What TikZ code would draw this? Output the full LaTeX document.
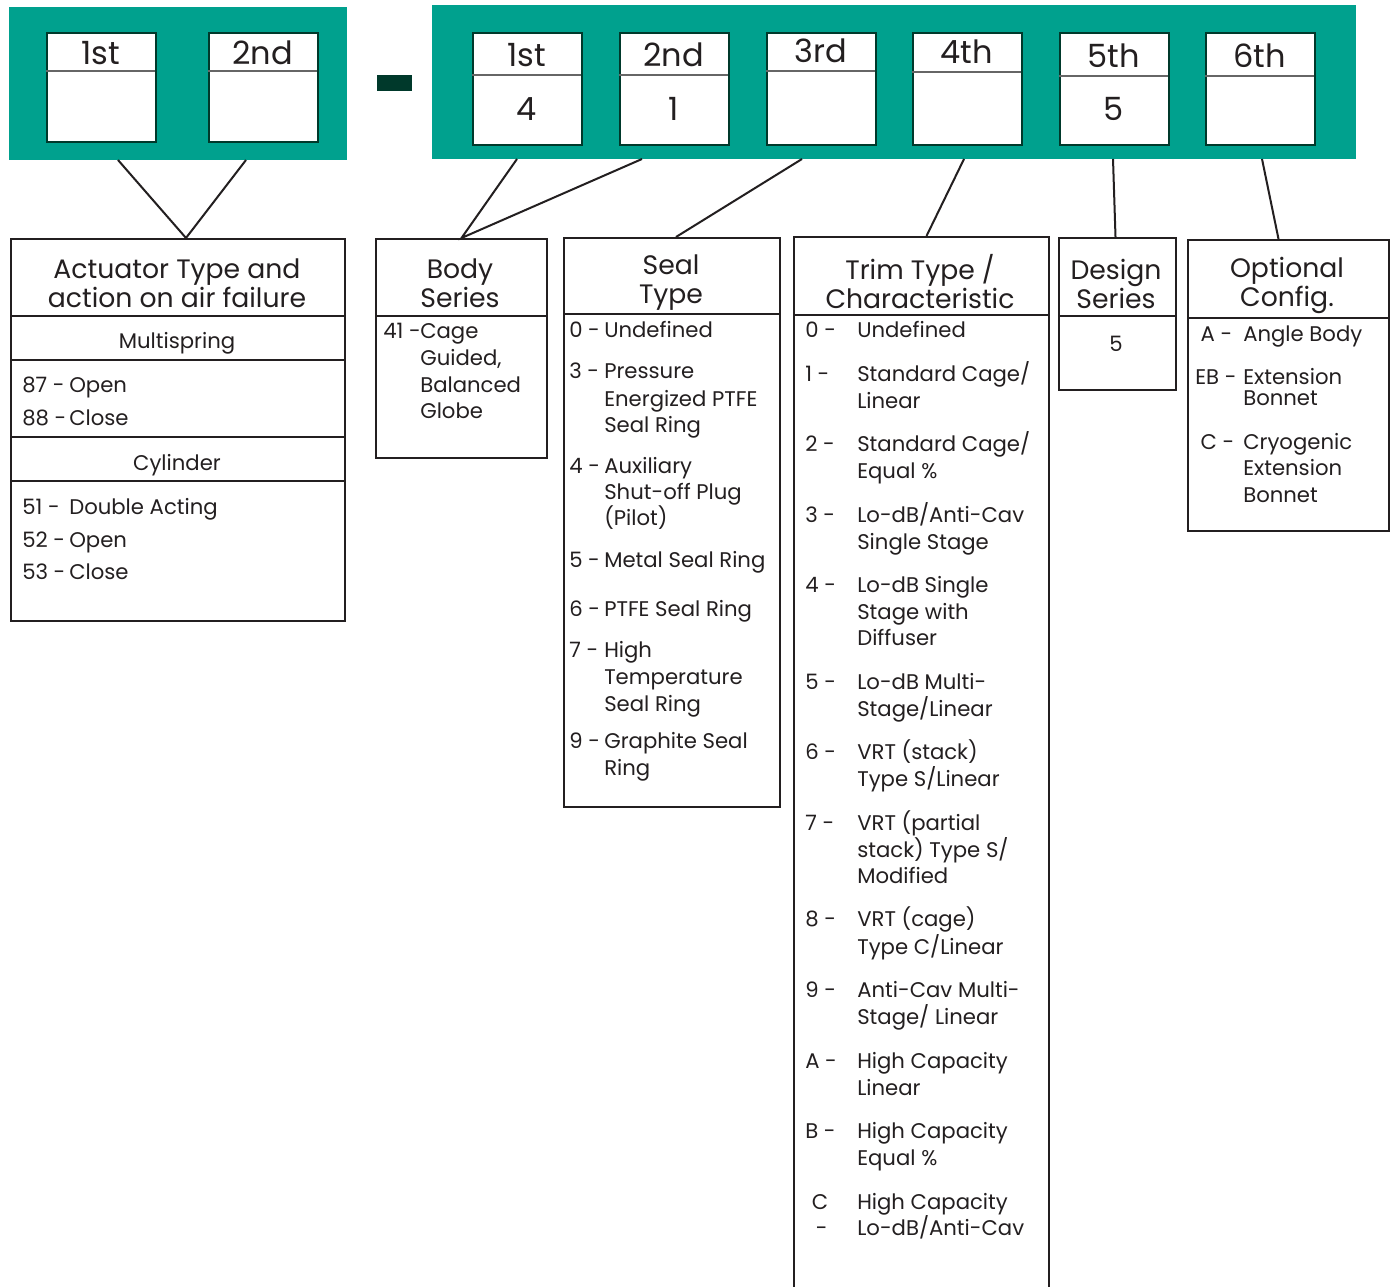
\documentclass[tikz,border=0pt]{standalone}
\usepackage{fontspec}
\setmainfont{Poppins}
\usepackage{tikz}
\usetikzlibrary{calc}
\definecolor{bandgreen}{HTML}{00A18E}
\definecolor{darkink}{HTML}{00392B}
\definecolor{textgray}{HTML}{231F20}
\tikzset{every picture/.style={x=0.75pt, y=-0.75pt}}
\tikzset{
  size/.style 2 args={minimum width=#1*0.75pt, minimum height=#2*0.75pt},
  band/.style={fill=bandgreen, anchor=north west, inner sep=0},
  slot/.style={draw=darkink, fill=white, line width=1.5pt, anchor=north west, inner sep=0},
  slotrule/.style={draw=gray!80!black, line width=0.8pt},
  codebox/.style={draw=textgray, line width=1.5pt, anchor=north west, inner sep=0},
  boxrule/.style={draw=textgray, line width=1pt},
  link/.style={draw=textgray, line width=1.5pt},
  toplab/.style={font=\fontsize{24}{28}\selectfont, text=textgray, inner sep=0},
  head/.style={font=\fontsize{20}{21.75}\selectfont, text=textgray, align=center, inner sep=0, yshift=-1.5pt},
  entry/.style={font=\fontsize{15.9}{20}\selectfont, text=textgray, anchor=mid west, inner sep=0, yshift=-3pt},
  subhead/.style={font=\fontsize{15.9}{20}\selectfont, text=textgray, inner sep=0, yshift=-2pt}
}

\begin{document}
\begin{tikzpicture}
    \path[use as bounding box, fill=white] (0,0) rectangle (1394,1287);
    % code bands
    \node[band, size={338}{153}] (bandL) at (9,7) {};
    \node[band, size={924}{154}] (bandR) at (432,5) {};
    \node[fill=darkink, size={35}{16}, anchor=north west, inner sep=0] (minus) at (377,75) {};
    \foreach \i/\x/\lab in {1/46/1st, 2/208/2nd} {
      \node[slot, size={109}{109}] (l\i) at (\x,32) {};
      \draw[slotrule] (\x,71) -- ++(109,0);
      \node[toplab] (l\i-lab) at (\x+54.5,53) {\lab};
    }
    \foreach \i/\x/\d/\lab/\val in {1/472/75/1st/4, 2/619/75/2nd/1, 3/766/71/3rd/, 4/912/72/4th/, 5/1059/76/5th/5, 6/1205/76/6th/} {
      \node[slot, size={109}{112}] (r\i) at (\x,32) {};
      \draw[slotrule] (\x,\d) -- ++(109,0);
      \node[toplab] (r\i-lab) at (\x+54.5,\d-20) {\lab};
      \node[toplab] (r\i-val) at (\x+54.5,109) {\val};
    }
    % boxes
    \node[codebox, size={334}{382}] (act) at (10,238) {};
    \node[codebox, size={171}{219}] (body) at (375,238) {};
    \node[codebox, size={216}{569}] (seal) at (563,237) {};
    \node[codebox, size={255}{1070}] (trim) at (793,236) {};
    \node[codebox, size={117}{152}] (design) at (1058,237) {};
    \node[codebox, size={201}{291}] (opt) at (1187,239) {};
    \foreach \b/\y in {act/316, act/360, act/437, act/481, body/316, seal/314, trim/315, design/316, opt/318}
      \draw[boxrule] (\b.west |- 0,\y) -- (\b.east |- 0,\y);
    % connectors
    \coordinate (bL1) at (118,160);
    \coordinate (bL2) at (246,160);
    \coordinate (bR1) at (517,159);
    \coordinate (bR2) at (642,159);
    \coordinate (bR3) at (802,159);
    \coordinate (bR4) at (964,159);
    \coordinate (bR5) at (1113,159);
    \coordinate (bR6) at (1262,159);
    \draw[link] (bL1) -- ($(act.north)+(8,0)$) -- (bL2);
    \draw[link] (bR1) -- (body.north) -- (bR2);
    \draw[link] (bR3) -- ($(seal.north)+(4,0)$);
    \draw[link] (bR4) -- ($(trim.north)+(5,0)$);
    \draw[link] (bR5) -- ($(design.north)+(-2,0)$);
    \draw[link] (bR6) -- ($(opt.north)+(-10,0)$);
    % headings
    \node[head] (act-head) at (177,281.5) {Actuator Type and\\action on air failure};
    \node[head] (body-head) at (460,281.5) {Body\\Series};
    \node[head] (seal-head) at (671,280.5) {Seal\\Type};
    \node[head] (trim-head) at (920,279.5) {Trim Type /\\Characteristic};
    \node[head] (design-head) at (1116,281.5) {Design\\Series};
    \node[head] (opt-head) at (1287,283) {Optional\\Config.};
    \node[subhead] (act-ms) at (177,341) {Multispring};
    \node[subhead] (act-cy) at (177,462) {Cylinder};
    \node[subhead] (design-val) at (1116,341) {5};
    % entries
    \foreach \y/\l/\t in {385/87 -/Open, 418/88 -/Close, 507/51 -/Double Acting, 540/52 -/Open, 572/53 -/Close} {
      \node[entry] (act-l\y) at (22,\y) {\l};
      \node[entry] (act-t\y) at (69,\y) {\t};
    }
    \foreach \y/\l/\t in {331/41 -/Cage, 358//{Guided,}, 385//Balanced, 411//Globe} {
      \node[entry] (body-l\y) at (383,\y) {\l};
      \node[entry] (body-t\y) at (420,\y) {\t};
    }
    \foreach \y/\l/\t in {330/0 -/Undefined, 371/3 -/Pressure, 399//Energized PTFE, 425//Seal Ring,
        466/4 -/Auxiliary, 492//Shut-off Plug, 518//(Pilot), 560/5 -/Metal Seal Ring, 609/6 -/PTFE Seal Ring,
        650/7 -/High, 677//Temperature, 704//Seal Ring, 741/9 -/Graphite Seal, 768//Ring} {
      \node[entry] (seal-l\y) at (569,\y) {\l};
      \node[entry] (seal-t\y) at (604,\y) {\t};
    }
    \foreach \y/\l/\t in {330/0 -/Undefined, 374/1 -/{Standard Cage/}, 401//Linear,
        444/2 -/{Standard Cage/}, 471//Equal \%, 515/3 -/{Lo-dB/Anti-Cav}, 542//Single Stage,
        585/4 -/Lo-dB Single, 612//Stage with, 638//Diffuser, 682/5 -/Lo-dB Multi-, 709//{Stage/Linear},
        752/6 -/VRT (stack), 779//{Type S/Linear}, 823/7 -/VRT (partial, 850//{stack) Type S/}, 876//Modified,
        919/8 -/VRT (cage), 947//{Type C/Linear}, 990/9 -/Anti-Cav Multi-, 1017//{Stage/ Linear},
        1061/A -/High Capacity, 1088//Linear, 1131/B -/High Capacity, 1158//Equal \%,
        1202/{\hspace{5pt}C}/High Capacity, 1228/{\hspace{8pt}-}/{Lo-dB/Anti-Cav}} {
      \node[entry] (trim-l\y) at (805,\y) {\l};
      \node[entry] (trim-t\y) at (857,\y) {\t};
    }
    \foreach \y/\l/\t in {334/{\hspace{4pt}A -}/Angle Body, 377/EB -/Extension, 398//Bonnet,
        442/{\hspace{4pt}C -}/Cryogenic, 468//Extension, 495//Bonnet} {
      \node[entry] (opt-l\y) at (1195,\y) {\l};
      \node[entry] (opt-t\y) at (1243,\y) {\t};
    }
\end{tikzpicture}
\end{document}
